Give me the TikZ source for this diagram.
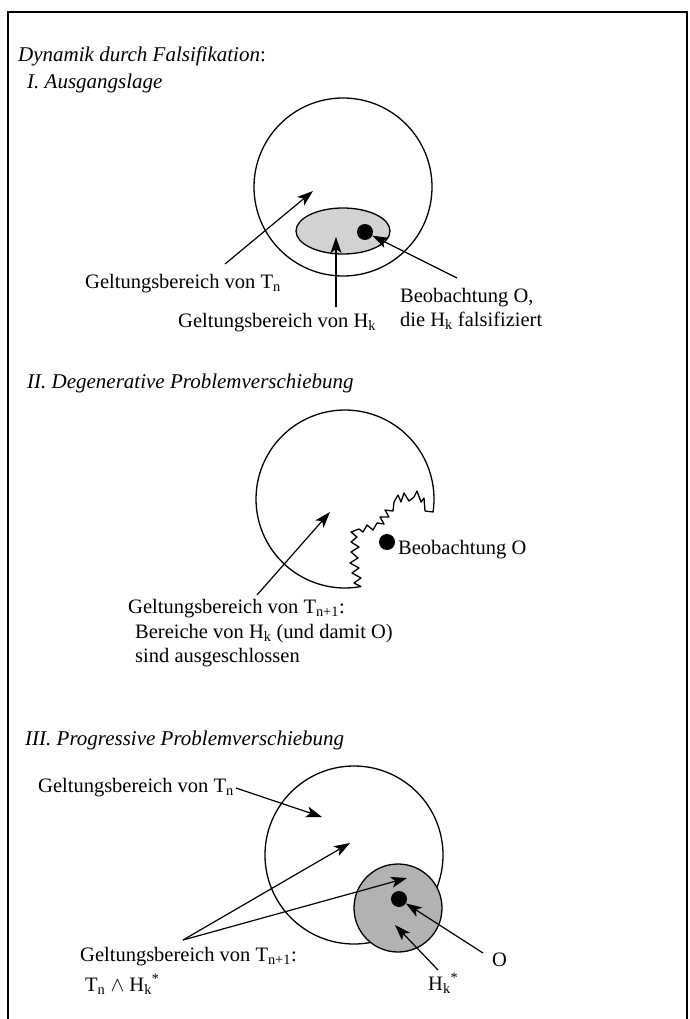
\documentclass[tikz,border=0pt]{standalone}
\usepackage{fontspec}
\setmainfont{Liberation Serif}
\usepackage{tikz}
\usetikzlibrary{arrows.meta, positioning, calc}

\tikzset{
  lbl/.style={anchor=base west, inner sep=0pt, font=\fontsize{20.5}{24}\selectfont},
  hdr/.style={anchor=base west, inner sep=0pt, font=\fontsize{21}{25}\selectfont\itshape},
  pfeil/.style={-{Stealth[length=16pt,width=11pt,inset=4pt]}, line width=1.2pt},
  rand/.style={line width=1.3pt},
  punkt/.style={circle, fill=black, inner sep=0pt, minimum size=16pt},
}

\begin{document}
\begin{tikzpicture}[x=1pt,y=-1pt]
  \useasboundingbox (0,0) rectangle (690,1019);
  % frame, open at the bottom
  \draw[line width=1.6pt] (8,1019) -- (8,12) -- (687,12) -- (687,1019);

  \node[hdr] (titel) at (18,62) {Dynamik durch Falsifikation{\upshape :}};

  % I. Ausgangslage
  \node[hdr] (kopfI) at (27,89) {I. Ausgangslage};
  \draw[rand] (343,187) circle (89);
  \draw[rand, fill=gray!35] (343,231) ellipse (47 and 23);
  \node[punkt] (obsI) at (365,232) {};
  \node[lbl] (tnI) at (85,288) {Geltungsbereich von T\textsubscript{n}};
  \node[lbl] (hkI) at (178,327) {Geltungsbereich von H\textsubscript{k}};
  \node[lbl] (beobI) at (400,302) {Beobachtung O,};
  \node[lbl] (falsI) at (400,326) {die H\textsubscript{k} falsifiziert};
  \coordinate (tnIfuss) at (225,264);
  \coordinate (tnIspitze) at (313,191);
  \coordinate (hkIfuss) at (336,307);
  \coordinate (hkIspitze) at (336,237);
  \coordinate (obsIfuss) at (457,278);
  \draw[pfeil] (tnIfuss) -- (tnIspitze);
  \draw[pfeil] (hkIfuss) -- (hkIspitze);
  \draw[pfeil] (obsIfuss) -- (obsI);

  % II. Degenerative Problemverschiebung
  \node[hdr] (kopfII) at (27,388) {II. Degenerative Problemverschiebung};
  % circle with a ragged bite taken out
  \draw[rand, line join=round]
    plot[domain=-8.4:280.3, samples=90] ({345+89*cos(\x)},{499-89*sin(\x)})
    -- (354,583) -- (361,578) -- (352,573) -- (359,568) -- (350,563)
    -- (358,558) -- (351,552) -- (359,547) -- (351,542) -- (357,537)
    -- (351,532) -- (359,529) -- (363,532) -- (367,525) -- (373,530)
    -- (377,523) -- (384,524) -- (380,517) -- (389,517) -- (385,510)
    -- (393,511) -- (394,502) -- (398,495) -- (401,502) -- (404,493)
    -- (409,501) -- (414,497) -- (417,491) -- (421,502) -- (424,498)
    -- (425,511) -- cycle;
  \node[punkt] (obsII) at (387,542) {};
  \node[lbl] (beobII) at (398,554) {Beobachtung O};
  \node[lbl] (tnII) at (128,613) {Geltungsbereich von T\textsubscript{n+1}:};
  \node[lbl] (berII) at (135,638) {Bereiche von H\textsubscript{k} (und damit O)};
  \node[lbl] (ausII) at (135,662) {sind ausgeschlossen};
  \coordinate (tnIIfuss) at (257,595);
  \coordinate (tnIIspitze) at (330,512);
  \draw[pfeil] (tnIIfuss) -- (tnIIspitze);

  % III. Progressive Problemverschiebung
  \node[hdr] (kopfIII) at (25,745) {III. Progressive Problemverschiebung};
  \draw[rand] (354,855) circle (89);
  \draw[rand, fill=gray!60] (398,908) circle (44);
  \node[punkt] (obsIII) at (399,899) {};
  \node[lbl] (tnIII) at (38,792) {Geltungsbereich von T\textsubscript{n}};
  \node[lbl] (tnnIII) at (80,961) {Geltungsbereich von T\textsubscript{n+1}:};
  \node[lbl] (undIII) at (85,991) {T\textsubscript{n} $\wedge$ H\textsubscript{k}\textsuperscript{*}};
  \node[lbl] (oIII) at (492,966) {O};
  \node[lbl] (hkIII) at (428,990) {H\textsubscript{k}\textsuperscript{*}};
  \coordinate (tnIIIfuss) at ($(tnIII.base east)+(2,-4)$);
  \coordinate (tnIIIspitze) at (322,817);
  \coordinate (gabel) at (183,940);
  \coordinate (gabelA) at (350,843);
  \coordinate (gabelB) at (407,878);
  \coordinate (oIIIfuss) at (483,953);
  \coordinate (hkIIIfuss) at (438,970);
  \coordinate (hkIIIspitze) at (395,925);
  \draw[pfeil] (tnIIIfuss) -- (tnIIIspitze);
  \draw[pfeil] (gabel) -- (gabelA);
  \draw[pfeil] (gabel) -- (gabelB);
  \draw[pfeil] (oIIIfuss) -- (obsIII);
  \draw[pfeil] (hkIIIfuss) -- (hkIIIspitze);
\end{tikzpicture}
\end{document}
